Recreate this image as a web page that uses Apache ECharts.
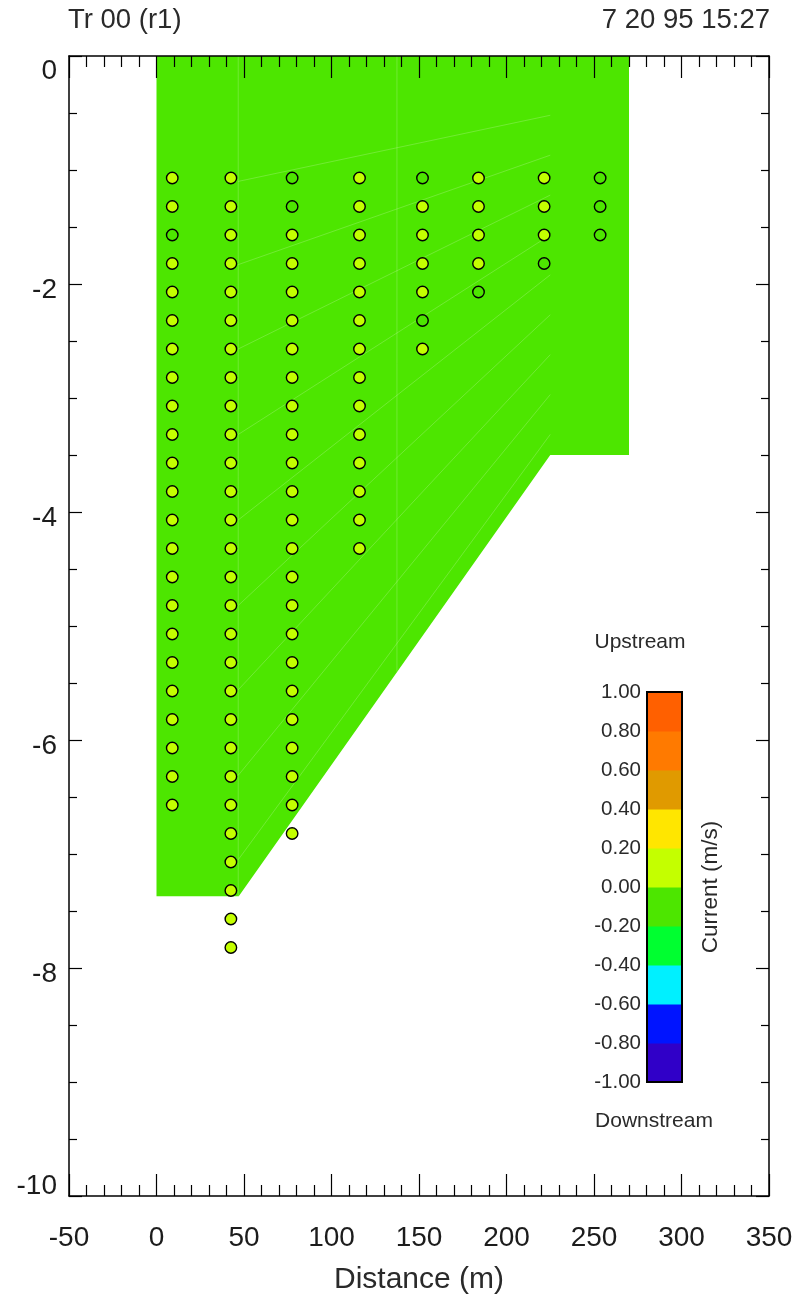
<!DOCTYPE html>
<html>
<head>
<meta charset="utf-8">
<script src="https://cdn.jsdelivr.net/npm/echarts@6/dist/echarts.min.js"></script>
<style>
html,body{margin:0;padding:0;background:#fff;}
#chart{width:801px;height:1301px;}
</style>
</head>
<body>
<div id="chart"></div>
<script>
// ---------- data ----------
const titleLeft = 'Tr 00 (r1)';
const titleRight = '7 20 95 15:27';
const xTicks = [-50, 0, 50, 100, 150, 200, 250, 300, 350];
const yTicks = [0, -2, -4, -6, -8, -10];

// measured field outline (distance m, depth m)
const fieldX = [0, 270, 270, 225, 47, 0];
const fieldY = [0, 0, -3.5, -3.5, -7.37, -7.37];

// faint mesh lines [x1, y1, x2, y2]
const meshLines = [
  [46.7, 0, 46.7, -7.37],
  [137.4, 0, 137.4, -5.40],
  [46.7, -1.10, 225, -0.52],
  [46.7, -1.83, 225, -0.87],
  [46.7, -2.57, 225, -1.22],
  [46.7, -3.32, 225, -1.57],
  [46.7, -4.07, 225, -1.92],
  [46.7, -4.82, 225, -2.27],
  [46.7, -5.56, 225, -2.62],
  [46.7, -6.31, 225, -2.97],
  [46.7, -7.05, 225, -3.32]
];

// measurement bins
const depthLevels = [-1.07, -1.32, -1.57, -1.82, -2.07, -2.32, -2.57, -2.82, -3.07, -3.32,
  -3.57, -3.82, -4.07, -4.32, -4.57, -4.82, -5.07, -5.32, -5.57, -5.82,
  -6.07, -6.32, -6.57, -6.82, -7.07, -7.32, -7.57, -7.82];
const ensembleX = [9, 42.5, 77.5, 116, 152, 184, 221.5, 253.5];
const ensembleValues = [
  [0.08, 0.08, -0.05, 0.08, 0.08, 0.08, 0.08, 0.08, 0.08, 0.08, 0.08, 0.08, 0.08, 0.08, 0.08, 0.08, 0.08, 0.08, 0.08, 0.08, 0.08, 0.08, 0.08],
  [0.08, 0.08, 0.08, 0.08, 0.08, 0.08, 0.08, 0.08, 0.08, 0.08, 0.08, 0.08, 0.08, 0.08, 0.08, 0.08, 0.08, 0.08, 0.08, 0.08, 0.08, 0.08, 0.08, 0.08, 0.08, 0.08, 0.08, 0.08],
  [-0.05, -0.05, 0.08, 0.08, 0.08, 0.08, 0.08, 0.08, 0.08, 0.08, 0.08, 0.08, 0.08, 0.08, 0.08, 0.08, 0.08, 0.08, 0.08, 0.08, 0.08, 0.08, 0.08, 0.08],
  [0.08, 0.08, 0.08, 0.08, 0.08, 0.08, 0.08, 0.08, 0.08, 0.08, 0.08, 0.08, 0.08, 0.08],
  [-0.05, 0.08, 0.08, 0.08, 0.08, -0.05, 0.08],
  [0.08, 0.08, 0.08, 0.08, -0.05],
  [0.08, 0.08, 0.08, -0.05],
  [-0.05, -0.05, -0.05]
];
const fieldValue = -0.1;

// colour scale
const binEdges = [-1.0, -0.8, -0.6, -0.4, -0.2, 0.0, 0.2, 0.4, 0.6, 0.8, 1.0];
const binColors = ['#3000c8', '#0014ff', '#00f0ff', '#00ff30', '#4de600', '#c4ff00', '#ffe600', '#e09a00', '#ff7a00', '#ff6000'];

// ---------- build ----------
function colorOf(v) {
  for (let i = 0; i < binColors.length; i++) {
    if (v >= binEdges[i] && v < binEdges[i + 1]) return binColors[i];
  }
  return binColors[binColors.length - 1];
}
const points = [];
ensembleX.forEach((x, ci) => {
  ensembleValues[ci].forEach((v, ri) => points.push([x, depthLevels[ri], v]));
});
const binData = binColors.map((c, i) => [binEdges[i], binEdges[i + 1], i]);

const FONT = '"Liberation Sans", Arial, Helvetica, sans-serif';
const TXT = '#1c1c1c';

const chart = echarts.init(document.getElementById('chart'), null, {renderer: 'canvas'});
const option = {
  backgroundColor: '#fff',
  animation: false,
  title: [
    {text: titleLeft, left: 68, top: 6, padding: 0,
     textStyle: {fontFamily: FONT, fontSize: 27.5, fontWeight: 'normal', color: '#2a2a2a'}},
    {text: titleRight, right: 31, top: 6, padding: 0,
     textStyle: {fontFamily: FONT, fontSize: 27.5, fontWeight: 'normal', color: '#2a2a2a'}}
  ],
  grid: [
    {left: 69, right: 32, top: 56, bottom: 105, containLabel: false},
    {left: 647, top: 692, width: 35, height: 390, containLabel: false}
  ],
  xAxis: [
    {gridIndex: 0, type: 'value', min: -50, max: 350, interval: 50, position: 'bottom', z: 10,
     axisLine: {show: true, onZero: false, lineStyle: {color: '#000', width: 1.5}},
     axisTick: {show: true, inside: true, length: 22, lineStyle: {color: '#000', width: 1.2}},
     minorTick: {show: true, splitNumber: 5, length: 11, lineStyle: {color: '#000', width: 1.2}},
     splitLine: {show: false},
     axisLabel: {fontFamily: FONT, fontSize: 28, color: TXT, margin: 28, showMinLabel: true, showMaxLabel: true},
     name: 'Distance (m)', nameLocation: 'middle', nameGap: 69,
     nameTextStyle: {fontFamily: FONT, fontSize: 30, color: '#2a2a2a'}},
    {gridIndex: 0, type: 'value', min: -50, max: 350, interval: 50, position: 'top', z: 10,
     axisLine: {show: true, onZero: false, lineStyle: {color: '#000', width: 1.5}},
     axisTick: {show: true, inside: true, length: 22, lineStyle: {color: '#000', width: 1.2}},
     minorTick: {show: true, splitNumber: 5, length: 11, lineStyle: {color: '#000', width: 1.2}},
     splitLine: {show: false}, axisLabel: {show: false}},
    {gridIndex: 1, type: 'value', min: 0, max: 1, show: false}
  ],
  yAxis: [
    {gridIndex: 0, type: 'value', min: -10, max: 0, interval: 2, position: 'left', z: 10,
     axisLine: {show: true, onZero: false, lineStyle: {color: '#000', width: 1.5}},
     axisTick: {show: true, inside: true, length: 13, lineStyle: {color: '#000', width: 1.2}},
     minorTick: {show: true, splitNumber: 4, length: 8, lineStyle: {color: '#000', width: 1.2}},
     splitLine: {show: false},
     axisLabel: {margin: 12, showMinLabel: true, showMaxLabel: true,
       formatter: function (v) {
         if (v === 0) return '{t|' + v + '}';
         if (v === -10) return '{b|' + v + '}';
         return '{m|' + v + '}';
       },
       rich: {
         t: {fontFamily: FONT, fontSize: 28, color: TXT, padding: [30, 0, 0, 0]},
         b: {fontFamily: FONT, fontSize: 28, color: TXT, padding: [0, 0, 20, 0]},
         m: {fontFamily: FONT, fontSize: 28, color: TXT, padding: [12, 0, 0, 0]}
       }}},
    {gridIndex: 0, type: 'value', min: -10, max: 0, interval: 2, position: 'right', z: 10,
     axisLine: {show: true, onZero: false, lineStyle: {color: '#000', width: 1.5}},
     axisTick: {show: true, inside: true, length: 13, lineStyle: {color: '#000', width: 1.2}},
     minorTick: {show: true, splitNumber: 4, length: 8, lineStyle: {color: '#000', width: 1.2}},
     splitLine: {show: false}, axisLabel: {show: false}},
    {gridIndex: 1, type: 'value', min: -1, max: 1, interval: 0.2, position: 'left',
     axisLine: {show: false}, axisTick: {show: false}, splitLine: {show: false},
     axisLabel: {fontFamily: FONT, fontSize: 20.5, color: '#2a2a2a', margin: 6, padding: [0, 0, 9, 0],
       showMinLabel: true, showMaxLabel: true,
       formatter: function (v) { return v.toFixed(2); }}}
  ],
  graphic: [
    {type: 'text', x: 640, y: 642, z: 20,
     style: {text: 'Upstream', fontFamily: FONT, fontSize: 21, fill: '#2a2a2a', textAlign: 'center', textVerticalAlign: 'middle'}},
    {type: 'text', x: 654, y: 1121, z: 20,
     style: {text: 'Downstream', fontFamily: FONT, fontSize: 21, fill: '#2a2a2a', textAlign: 'center', textVerticalAlign: 'middle'}},
    {type: 'text', x: 711, y: 887, rotation: Math.PI / 2, z: 20,
     style: {text: 'Current (m/s)', fontFamily: FONT, fontSize: 22.5, fill: '#2a2a2a', textAlign: 'center', textVerticalAlign: 'middle'}}
  ],
  series: [
    {type: 'custom', name: 'field', xAxisIndex: 0, yAxisIndex: 0, z: 1, silent: true,
     data: [[fieldValue]],
     renderItem: function (params, api) {
       const pts = fieldX.map((x, i) => api.coord([x, fieldY[i]]));
       return {type: 'polygon', shape: {points: pts}, style: {fill: colorOf(api.value(0)), stroke: null}};
     }},
    {type: 'custom', name: 'mesh', xAxisIndex: 0, yAxisIndex: 0, z: 2, silent: true,
     data: meshLines,
     renderItem: function (params, api) {
       const a = api.coord([api.value(0), api.value(1)]);
       const b = api.coord([api.value(2), api.value(3)]);
       return {type: 'line', shape: {x1: a[0], y1: a[1], x2: b[0], y2: b[1]},
         style: {stroke: 'rgba(255,255,255,0.2)', lineWidth: 1}};
     }},
    {type: 'scatter', name: 'bins', xAxisIndex: 0, yAxisIndex: 0, z: 3,
     symbol: 'circle', symbolSize: 11.5, data: points,
     itemStyle: {color: function (p) { return colorOf(p.value[2]); }, borderColor: '#000', borderWidth: 1.4, opacity: 1}},
    {type: 'custom', name: 'colorbar', xAxisIndex: 2, yAxisIndex: 2, z: 2, silent: true,
     data: binData,
     renderItem: function (params, api) {
       const p1 = api.coord([0, api.value(1)]);
       const p2 = api.coord([1, api.value(0)]);
       return {type: 'rect', shape: {x: p1[0], y: p1[1], width: p2[0] - p1[0], height: p2[1] - p1[1] + 0.5},
         style: {fill: binColors[api.value(2)], stroke: null}};
     }},
    {type: 'custom', name: 'colorbarFrame', xAxisIndex: 2, yAxisIndex: 2, z: 4, silent: true,
     data: [[binEdges[0], binEdges[binEdges.length - 1]]],
     renderItem: function (params, api) {
       const p1 = api.coord([0, api.value(1)]);
       const p2 = api.coord([1, api.value(0)]);
       return {type: 'rect', shape: {x: p1[0], y: p1[1], width: p2[0] - p1[0], height: p2[1] - p1[1]},
         style: {fill: null, stroke: '#000', lineWidth: 2}};
     }}
  ]
};
chart.setOption(option);
</script>
</body>
</html>
